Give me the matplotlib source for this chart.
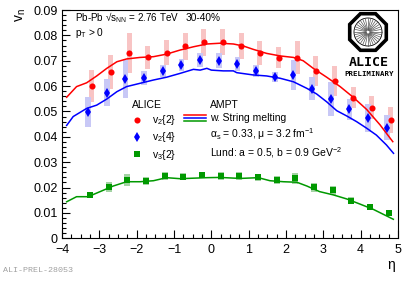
import numpy as np
import matplotlib
matplotlib.use('Agg')
from matplotlib import pyplot as plt
from matplotlib.lines import Line2D
from matplotlib.patches import RegularPolygon, Circle
from matplotlib.ticker import MultipleLocator

plt.rcParams['font.family'] = ['Liberation Sans', 'DejaVu Sans']
plt.rcParams['mathtext.fontset'] = 'custom'
plt.rcParams['mathtext.rm'] = 'Liberation Sans'
plt.rcParams['mathtext.it'] = 'Liberation Sans:italic'
plt.rcParams['mathtext.bf'] = 'Liberation Sans:bold'

# ALICE data, eta bin centres
eta = [-3.25, -2.75, -2.25, -1.75, -1.25, -0.75, -0.25, 0.25, 0.75,
       1.25, 1.75, 2.25, 2.75, 3.25, 3.75, 4.25, 4.75]
v22 = [0.0600, 0.0655, 0.0732, 0.0713, 0.0732, 0.0757, 0.0773, 0.0774, 0.0758,
       0.0729, 0.0712, 0.0712, 0.0661, 0.0620, 0.0554, 0.0515, 0.0467]
v22_sys = [0.0062, 0.0066, 0.0079, 0.0046, 0.0049, 0.0053, 0.0053, 0.0053, 0.0051,
           0.0047, 0.0041, 0.0064, 0.0059, 0.0058, 0.0041, 0.0045, 0.0050]
v24 = [0.0499, 0.0574, 0.0628, 0.0632, 0.0658, 0.0683, 0.0703, 0.0700, 0.0687,
       0.0661, 0.0637, 0.0642, 0.0590, 0.0550, 0.0508, 0.0474, 0.0436]
v24_sys = [0.0059, 0.0053, 0.0075, 0.0026, 0.0024, 0.0024, 0.0026, 0.0030, 0.0026,
           0.0024, 0.0020, 0.0059, 0.0046, 0.0066, 0.0040, 0.0056, 0.0050]
v32 = [0.0171, 0.0203, 0.0230, 0.0226, 0.0246, 0.0243, 0.0250, 0.0247, 0.0247,
       0.0240, 0.0230, 0.0236, 0.0201, 0.0190, 0.0148, 0.0125, 0.0099]
v32_sys = [0.0013, 0.0020, 0.0023, 0.0015, 0.0015, 0.0015, 0.0013, 0.0016, 0.0016,
           0.0013, 0.0014, 0.0022, 0.0018, 0.0018, 0.0013, 0.0011, 0.0010]

# AMPT curves
ampt_eta_v22 = [-3.875, -3.61, -3.34, -3.07, -2.80, -2.53, -2.27, -1.91, -1.55, -1.2,
                -0.84, -0.48, -0.12, 0.23, 0.59, 0.86, 1.12, 1.48, 1.84, 2.2,
                2.46, 2.73, 3.09, 3.45, 3.8, 4.16, 4.52, 4.86]
ampt_v22 = [0.0556, 0.0598, 0.0613, 0.0640, 0.0670, 0.0696, 0.0707, 0.0713, 0.0716, 0.0726,
            0.0742, 0.0755, 0.0766, 0.0769, 0.0766, 0.0758, 0.0745, 0.0729, 0.0719, 0.0713,
            0.0700, 0.0670, 0.0635, 0.0598, 0.0556, 0.0508, 0.0447, 0.0381]
ampt_eta_v24 = [-3.875, -3.70, -3.34, -3.07, -2.8, -2.53, -2.27, -1.91, -1.55, -1.2,
                -0.84, -0.48, -0.3, -0.12, 0.0, 0.32, 0.59, 0.68, 1.12, 1.48,
                1.84, 2.2, 2.56, 2.82, 3.09, 3.36, 3.63, 3.89, 4.16, 4.42, 4.69, 4.88]
ampt_v24 = [0.0445, 0.0480, 0.0512, 0.0525, 0.0549, 0.0578, 0.0598, 0.0611, 0.0624, 0.0635,
            0.0650, 0.0666, 0.0663, 0.0670, 0.0663, 0.0660, 0.0660, 0.0653, 0.0644, 0.0640,
            0.0631, 0.0617, 0.0591, 0.0569, 0.0538, 0.0503, 0.0482, 0.0460, 0.0434, 0.0407,
            0.0368, 0.0335]
ampt_eta_v32 = [-3.875, -3.61, -3.3, -2.98, -2.63, -2.27, -1.91, -1.55, -1.2, -0.84,
                -0.48, -0.12, 0.23, 0.77, 1.26, 1.57, 1.93, 2.29, 2.56, 2.9,
                3.27, 3.63, 3.98, 4.34, 4.875]
ampt_v32 = [0.0144, 0.0164, 0.0164, 0.0184, 0.0206, 0.0223, 0.0223, 0.0227, 0.0239, 0.0235,
            0.0237, 0.0239, 0.0240, 0.0236, 0.0239, 0.0227, 0.0223, 0.0221, 0.0206, 0.0184,
            0.0171, 0.0155, 0.0135, 0.0114, 0.0075]

W, H = 415, 281
fig = plt.figure(figsize=(W / 100, H / 100), dpi=100)
ax = fig.add_axes([62 / W, 1 - 238.3 / H, 336 / W, 228.3 / H])

eta = np.array(eta)
red_x = eta + 0.05
blue_x = eta - 0.05

# systematic boxes
ax.bar(red_x, 2 * np.array(v22_sys), bottom=np.array(v22) - v22_sys, width=0.13,
       color='#f8c4c4', linewidth=0, zorder=1)
ax.bar(blue_x, 2 * np.array(v24_sys), bottom=np.array(v24) - v24_sys, width=0.15,
       color='#c8c8f6', linewidth=0, zorder=1)
ax.bar(eta, 2 * np.array(v32_sys), bottom=np.array(v32) - v32_sys, width=0.16,
       color='#a3d3a3', linewidth=0, zorder=1)

l_red, = ax.plot(ampt_eta_v22, ampt_v22, color='#ff0000', lw=1.1, zorder=2)
l_blue, = ax.plot(ampt_eta_v24, ampt_v24, color='#0000ff', lw=1.1, zorder=2)
l_green, = ax.plot(ampt_eta_v32, ampt_v32, color='#009900', lw=1.1, zorder=2)

p_red, = ax.plot(red_x, v22, 'o', color='#ff0000', ms=4.4, mew=0, zorder=3)
p_blue, = ax.plot(blue_x, v24, 'd', color='#0000ff', ms=5.5, mew=0, zorder=3)
p_green, = ax.plot(eta, v32, 's', color='#009900', ms=4.2, mew=0, zorder=3)

ax.set_xlim(-4, 5)
ax.set_ylim(0, 0.09)
ax.xaxis.set_major_locator(MultipleLocator(1))
ax.xaxis.set_minor_locator(MultipleLocator(0.25))
ax.yaxis.set_minor_locator(MultipleLocator(0.002))
ax.set_yticks(np.arange(0, 0.091, 0.01))
ax.set_yticklabels(['0', '0.01', '0.02', '0.03', '0.04', '0.05', '0.06', '0.07', '0.08', '0.09'])
ax.tick_params(which='both', direction='in', top=False, right=False, labelsize=9, width=0.8)
ax.tick_params(axis='y', pad=3)
ax.tick_params(axis='x', pad=4)
ax.tick_params(which='major', length=5.5)
ax.tick_params(which='minor', length=2.8)
for s in ax.spines.values():
    s.set_linewidth(0.8)

fig.text(21 / W, 1 - 8 / H, r'v$_{\rm n}$', rotation=90, ha='center', va='top', fontsize=10)
fig.text(391 / W, 1 - 265 / H, 'η', ha='center', va='center', fontsize=10)

fig.text(75 / W, 1 - 18 / H, r'Pb-Pb √s$_{\rm NN}$ = 2.76 TeV', ha='left', va='center', fontsize=7.1)
fig.text(186 / W, 1 - 18 / H, '30-40%', ha='left', va='center', fontsize=7.3)
fig.text(75 / W, 1 - 33 / H, r'p$_{\rm T}$ > 0', ha='left', va='center', fontsize=7.3)

fig.text(3 / W, 1 - 271 / H, 'ALI-PREL-28053', ha='left', va='center', fontsize=6,
         family='Liberation Mono', color='#a0a0a0')


class ThreeLines:
    def legend_artist(self, legend, orig_handle, fontsize, handlebox):
        x0, y0 = handlebox.xdescent, handlebox.ydescent
        w, h = handlebox.width, handlebox.height
        last = None
        for i, ln in enumerate(orig_handle):
            yy = y0 + h / 2 + 2.2 * (1 - i)
            last = Line2D([x0, x0 + w], [yy, yy], color=ln.get_color(), lw=1.1)
            handlebox.add_artist(last)
        return last


empty = Line2D([], [], color='none')

leg1 = ax.legend([p_red, p_blue, p_green], ['v$_{2}${2}', 'v$_{2}${4}', 'v$_{3}${2}'],
                 title='ALICE', alignment='left', loc='upper left',
                 bbox_to_anchor=(127 / W, 1 - 95 / H), bbox_transform=fig.transFigure,
                 frameon=False, fontsize=7.5, title_fontsize=7.5, borderpad=0,
                 handlelength=1.0, handletextpad=0.9, labelspacing=0.3, numpoints=1)
ax.add_artist(leg1)
ax.legend([empty, (l_red, l_blue, l_green), empty, empty],
          ['AMPT', 'w. String melting', r'α$_{\rm s}$ = 0.33, μ = 3.2 fm$^{-1}$',
           r'Lund: a = 0.5, b = 0.9 GeV$^{-2}$'],
          handler_map={tuple: ThreeLines()}, loc='upper left',
          bbox_to_anchor=(179 / W, 1 - 95 / H), bbox_transform=fig.transFigure,
          frameon=False, fontsize=7.5, borderpad=0,
          handlelength=2.1, handletextpad=0.4, labelspacing=0.3)

# ALICE logo
cx, cy = 368, 32
lg = fig.add_axes([344 / W, 1 - 80 / H, 50 / W, 70 / H])
lg.set_xlim(344, 394)
lg.set_ylim(80, 10)
lg.axis('off')
lg.add_patch(RegularPolygon((cx, cy), 8, radius=19.8, orientation=np.pi / 8,
                            fill=False, ec='black', lw=2.6))
lg.add_patch(Circle((cx, cy), 14, fill=False, ec='black', lw=0.6))
for a in np.linspace(0, 2 * np.pi, 32, endpoint=False):
    lg.plot([cx + 2 * np.cos(a), cx + 14 * np.cos(a)],
            [cy + 2 * np.sin(a), cy + 14 * np.sin(a)], color='#555555', lw=0.5)
lg.text(cx + 1, 62, 'ALICE', ha='center', va='center', fontsize=9.5, fontweight='bold',
        family='DejaVu Sans Mono')
lg.text(cx + 1, 74, 'PRELIMINARY', ha='center', va='center', fontsize=5.3, fontweight='bold',
        family='DejaVu Sans Mono')

fig.savefig('out.png', dpi=100)
